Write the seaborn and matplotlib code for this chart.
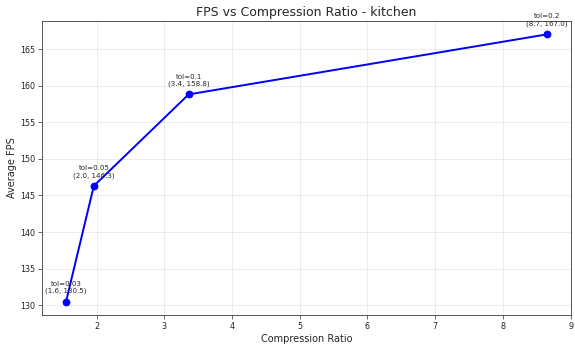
import matplotlib
matplotlib.use("Agg")
import matplotlib.pyplot as plt
import seaborn as sns
import pandas as pd

# Compression ratio vs FPS for each tolerance setting
tolerances = ["0.03", "0.05", "0.1", "0.2"]
compression_ratio = [1.55, 1.96, 3.36, 8.65]
avg_fps = [130.5, 146.3, 158.8, 167.0]

df = pd.DataFrame({"tol": tolerances, "ratio": compression_ratio, "fps": avg_fps})

sns.set_style("white")
W, H, DPI = 575, 347, 64
fig = plt.figure(figsize=(W / DPI, H / DPI), dpi=DPI)
ax = fig.add_axes([42 / W, (H - 315) / H, 529 / W, (315 - 21) / H])

sns.lineplot(data=df, x="ratio", y="fps", ax=ax, color="blue", linewidth=2.2,
             marker="o", markersize=8, markeredgecolor="blue", sort=False)

for t, x, y in zip(df["tol"], df["ratio"], df["fps"]):
    ax.annotate(f"tol={t}\n({x:.1f}, {y:.1f})", (x, y), textcoords="offset points",
                xytext=(0, 10), ha="center", fontsize=8)

ax.set_title("FPS vs Compression Ratio - kitchen", fontsize=14)
ax.set_xlabel("Compression Ratio", fontsize=11)
ax.set_ylabel("Average FPS", fontsize=11)
ax.tick_params(labelsize=9, length=4, width=0.8, left=True, bottom=True,
               colors="#333333", labelcolor="#222222")
ax.grid(True, color="#b0b0b0", alpha=0.3, linewidth=0.8)
for s in ax.spines.values():
    s.set_color("#444444")
    s.set_linewidth(1.0)

fig.savefig("out.png")
